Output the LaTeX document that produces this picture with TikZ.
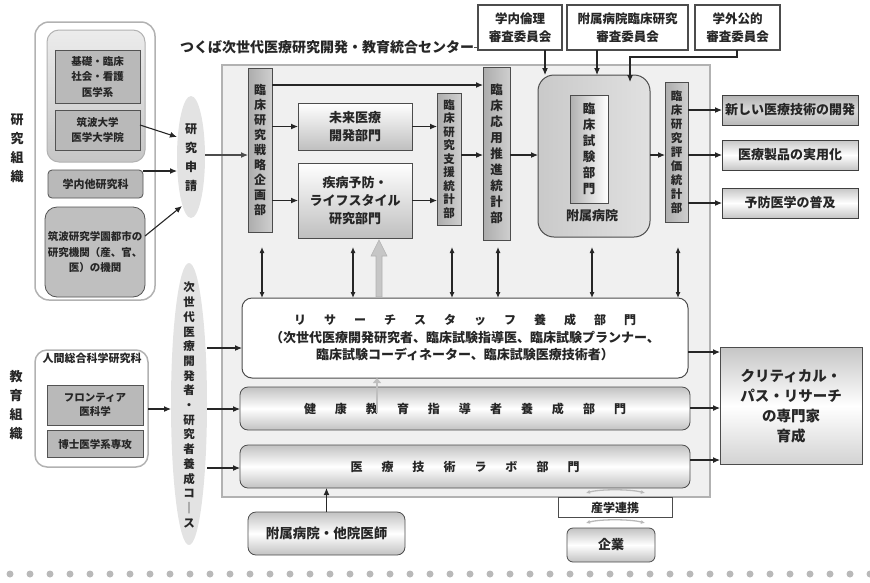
\documentclass[tikz,border=0pt]{standalone}
\usepackage{fontspec}
\setmainfont{Noto Sans CJK JP}
\usetikzlibrary{arrows.meta,shapes.geometric}
\ExplSyntaxOn
\NewDocumentCommand\vt{m}{\seq_clear:N \l_tmpa_seq \tl_map_inline:nn {#1}{\seq_put_right:Nn \l_tmpa_seq {##1}} \seq_use:Nn \l_tmpa_seq {\\}}
\NewDocumentCommand\spc{mm}{\seq_clear:N \l_tmpa_seq \tl_map_inline:nn {#2}{\seq_put_right:Nn \l_tmpa_seq {##1}} \seq_use:Nn \l_tmpa_seq {\hspace{#1}}}
\ExplSyntaxOff
\begin{document}
\begin{tikzpicture}[x=1pt,y=-1pt,
  every node/.style={inner sep=0pt, outer sep=0pt, align=center, text=black!85},
  fs/.style 2 args={font=\bfseries\fontsize{#1}{#2}\selectfont},
  ar/.style={-{Latex[length=7pt,width=6pt]}, line width=1.1pt, black!85},
  dar/.style={{Latex[length=6pt,width=5pt]}-{Latex[length=6pt,width=5pt]}, line width=1.1pt, black!85},
  boxdk/.style={draw=gray!65!black, line width=0.8pt, fill=gray!55},
  barbox/.style={draw=gray!60!black, line width=0.6pt, left color=gray!65, right color=gray!38},
  cbox/.style={draw=gray!60!black, line width=1.2pt, fill=white, fs={12.5}{18}},
  obox/.style={draw=gray!50!black, line width=1pt, top color=gray!45, bottom color=gray!45, middle color=white, minimum width=136, minimum height=30, fs={13}{15}},
  gbar/.style={rounded corners=8pt, draw=gray!60!black, line width=0.8pt, top color=gray!48, bottom color=gray!48, middle color=white},
  ubox/.style={draw=gray!60!black, line width=0.8pt, top color=white, bottom color=gray!50, minimum width=114}
]
\useasboundingbox (0,0) rectangle (870,582);

% ---------- left: research organisation ----------
\node[draw=gray!60, line width=1.5pt, rounded corners=14pt, fill=white, minimum width=120, minimum height=278] (resout) at (95,161) {};
\node[draw=gray!60, line width=1pt, rounded corners=12pt, top color=gray!15, bottom color=gray!45, minimum width=98, minimum height=132] (resgrp) at (96,96) {};
\node[boxdk, minimum width=85, minimum height=53, fs={10.5}{15.5}] (resA) at (97.5,77) {基礎・臨床\\社会・看護\\医学系};
\node[boxdk, minimum width=85, minimum height=40, fs={10.5}{15.5}] (resB) at (97.5,130) {筑波大学\\医学大学院};
\node[boxdk, rounded corners=4pt, minimum width=95, minimum height=28, fs={11}{13}] (resC) at (95.5,184) {学内他研究科};
\node[boxdk, rounded corners=12pt, fill=gray!50, minimum width=100, minimum height=90, fs={10.5}{15.5}] (resD) at (95,252) {筑波研究学園都市の\\研究機関（産、官、\\医）の機関};
\node[fs={13}{19}] (lblres) at (17,148) {\vt{研究組織}};
\node[ellipse, fill=gray!22, minimum width=28, minimum height=122] (apply) at (191,157) {};
\node[fs={12}{19}] (applyt) at (191,158) {\vt{研究申請}};

\draw[ar] (resB.east |- 0,125) -- (apply.west |- 0,137);
\draw[ar] (resC.east |- 0,171) -- (apply.west |- 0,171);
\draw[ar] (resD.east |- 0,236) -- (182,206);

% ---------- title and committees ----------
\node[fs={14}{16}, anchor=east] (title) at (474,47) {つくば次世代医療研究開発・教育統合センター};
\node[cbox, minimum width=84, minimum height=45] (c1) at (520,27.5) {学内倫理\\審査委員会};
\node[cbox, minimum width=121, minimum height=45] (c2) at (627.5,27.5) {附属病院臨床研究\\審査委員会};
\node[cbox, minimum width=85, minimum height=45] (c3) at (737.5,27.5) {学外公的\\審査委員会};
\draw[gray!60!black, line width=1pt] (title.east) -- (c1.west |- title.east);

% ---------- central container ----------
\node[draw=gray!60, line width=1.5pt, fill=gray!12, minimum width=488, minimum height=432] (center) at (466,281) {};

\node[barbox, minimum width=24, minimum height=164, fs={12}{15}] (bar1) at (260,150) {\vt{臨床研究戦略企画部}};
\node[ubox, minimum height=47, fs={13}{18}] (mirai) at (355,126.5) {未来医療\\開発部門};
\node[ubox, minimum height=75, fs={13}{18}] (shippei) at (355,200.5) {疾病予防・\\ライフスタイル\\研究部門};
\node[barbox, minimum width=24, minimum height=132, fs={11.5}{13.5}] (bar2) at (449,159) {\vt{臨床研究支援統計部}};
\node[barbox, minimum width=27, minimum height=173, fs={12.5}{16}] (bar3) at (496.5,153.5) {\vt{臨床応用推進統計部}};
\node[draw=gray!60!black, line width=1pt, rounded corners=16pt, left color=gray!42, right color=gray!24, minimum width=112, minimum height=162] (hosp) at (594,156) {};
\node[draw=gray!60!black, line width=0.6pt, left color=gray!62, right color=white, minimum width=38, minimum height=108, fs={12.5}{16}] (trial) at (589,149) {\vt{臨床試験部門}};
\node[fs={13}{15}] (hosplbl) at (592,216) {附属病院};
\node[barbox, minimum width=23, minimum height=140, fs={11.5}{14}] (bar4) at (676.5,152) {\vt{臨床研究評価統計部}};

\node[obox, top color=gray!60, bottom color=gray!55, middle color=gray!30] (out1) at (790,110) {新しい医療技術の開発};
\node[obox] (out2) at (790,155) {医療製品の実用化};
\node[obox] (out3) at (790,203) {予防医学の普及};

\draw[ar] (bar1.east |- 0,85) -- (bar3.west |- 0,85);
\draw[ar] (bar1.east |- mirai.west) -- (mirai.west);
\draw[ar] (bar1.east |- shippei.west) -- (shippei.west);
\draw[ar] (mirai.east) -- (bar2.west |- mirai.east);
\draw[ar] (shippei.east) -- (bar2.west |- shippei.east);
\draw[ar] (bar2.east |- 0,155) -- (bar3.west |- 0,155);
\draw[ar] (bar3.east |- 0,155) -- (hosp.west |- 0,155);
\draw[ar] (hosp.east |- 0,155) -- (bar4.west |- 0,155);
\draw[ar] (bar4.east |- out1.west) -- (out1.west);
\draw[ar] (bar4.east |- out2.west) -- (out2.west);
\draw[ar] (bar4.east |- out3.west) -- (out3.west);
\draw[ar] (c1.south -| 545,0) -- (hosp.north -| 545,0);
\draw[ar] (c2.south -| 597,0) -- (hosp.north -| 597,0);
\draw[ar] (c3.south -| 737,0) -- ++(0,7) -| (630,82);
\draw[ar, gray!60!black] (apply.east |- 0,155) -- (bar1.west |- 0,155);

% ---------- lower departments ----------
\node[draw=gray!60!black, line width=1pt, rounded corners=10pt, fill=white, minimum width=446, minimum height=80] (rs) at (465,338) {};
\node[fs={12}{14}] (rst) at (465,320) {\spc{18pt}{リサーチスタッフ養成部門}};
\node[fs={13}{17.5}] (rsb) at (465,346) {（次世代医療開発研究者、臨床試験指導医、臨床試験プランナー、\\臨床試験コーディネーター、臨床試験医療技術者）};
\node[gbar, minimum width=450, minimum height=43, fs={12}{14}] (edu) at (465,408.5) {\spc{19pt}{健康教育指導者養成部門}};
\node[gbar, minimum width=450, minimum height=43, fs={12}{14}] (lab) at (465,466.5) {\spc{19pt}{医療技術ラボ部門}};

\foreach \x in {262,353,452,498,592,678}
  \draw[dar] (\x,247) -- (rs.north -| \x,0);

% big grey arrow
\filldraw[fill=gray!45, draw=gray!60, line width=0.6pt] (376,297) -- (376,256) -- (371,256) -- (379,240) -- (387,256) -- (382,256) -- (382,297) -- cycle;
\draw[gray!50, line width=2.5pt, -{Triangle[length=5pt,width=8pt]}] (377,413) -- (rs.south -| 377,0);

% critical path
\node[draw=gray!60!black, line width=1pt, top color=gray!45, bottom color=gray!35, middle color=white, minimum width=142, minimum height=117, fs={14.5}{20}] (cp) at (791,406) {クリティカル・\\パス・リサーチ\\の専門家\\育成};
\draw[ar] (rs.east |- 0,352) -- (cp.west |- 0,352);
\draw[ar] (edu.east |- 0,408) -- (cp.west |- 0,408);
\draw[ar] (lab.east |- 0,460) -- (cp.west |- 0,460);

% ---------- education ----------
\node[ellipse, fill=gray!22, minimum width=36, minimum height=282] (course) at (189,404) {};
\node[fs={11.5}{14.7}] (courset) at (189,405) {\vt{次世代医療開発者・研究者養成コ｜ス}};
\draw[ar] (course.east |- 0,348) -- (rs.west |- 0,348);
\draw[ar] (course.east |- 0,409) -- (edu.west |- 0,409);
\draw[ar] (course.east |- 0,468) -- (lab.west |- 0,468);

\node[draw=gray!60, line width=1.5pt, rounded corners=12pt, fill=white, minimum width=113, minimum height=117] (eduout) at (91.5,408.5) {};
\node[fs={11}{13}] (eduttl) at (92,358) {人間総合科学研究科};
\node[boxdk, minimum width=96, minimum height=40, fs={10.5}{14}] (front) at (95,405) {フロンティア\\医科学};
\node[boxdk, minimum width=96, minimum height=27, fs={10.5}{13}] (phd) at (95,444) {博士医学系専攻};
\node[fs={13}{19}] (lbledu) at (16,405) {\vt{教育組織}};
\draw[ar] (eduout.east |- 0,409) -- (course.west |- 0,409);

% ---------- bottom ----------
\node[gbar, minimum width=157, minimum height=43, fs={13.5}{15}] (doc) at (326.5,533.5) {附属病院・他院医師};
\draw[ar] (doc.north) -- (lab.south -| doc.north);
\node[draw=gray!60!black, line width=0.8pt, fill=white, minimum width=114, minimum height=20, fs={12}{14}] (sangaku) at (615,507.5) {産学連携};
\node[gbar, rounded corners=6pt, minimum width=88, minimum height=34, fs={13}{15}] (kigyo) at (611,545) {企業};
\draw[gray!55, line width=1.3pt, {Latex[length=4pt,width=4pt]}-{Latex[length=4pt,width=4pt]}] (586,493) .. controls (600,489) and (630,489) .. (645,493);
\draw[gray!55, line width=1.3pt, {Latex[length=4pt,width=4pt]}-{Latex[length=4pt,width=4pt]}] (586,523) .. controls (600,519) and (630,519) .. (645,523);

% dotted line
\foreach \x in {10,30,...,870}
  \fill[gray!55] (\x,574) circle (3.5pt);
\end{tikzpicture}
\end{document}
